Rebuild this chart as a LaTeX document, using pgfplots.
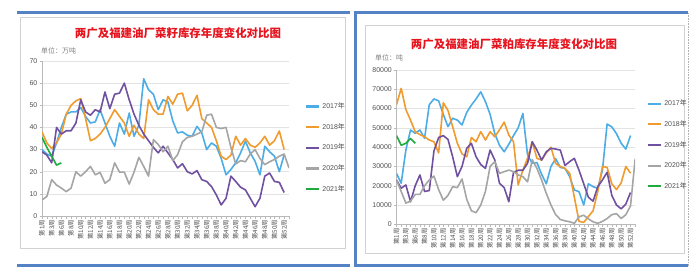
\documentclass[border=0pt]{standalone}
\usepackage{pgfplots}
\usepackage{pgfplotstable}
\pgfplotsset{compat=1.18}
\usepackage{fontspec}
\setmainfont{Liberation Sans}
\newfontfamily\cjk{Noto Sans CJK SC}

\definecolor{cA}{RGB}{75,172,230}
\definecolor{cB}{RGB}{240,155,45}
\definecolor{cC}{RGB}{112,80,160}
\definecolor{cD}{RGB}{165,165,165}
\definecolor{cE}{RGB}{30,170,60}
\definecolor{bordb}{RGB}{84,130,196}
\definecolor{ttl}{RGB}{230,20,30}
\definecolor{txt}{RGB}{80,80,80}

\pgfplotstableread{
i a b c d e
0 30 38 29 7.3 35.5
1 28 33 27.5 8.8 31
2 27 30.5 24 16.4 27
3 33 33 40 14 23
4 40 37 37 12.6 24
5 46 46 38.5 11 nan
6 47 50 38.5 12.6 nan
7 47 52 42 20 nan
8 49 53 52.5 18 nan
9 45 44 47 20 nan
10 42 34 45.5 22.4 nan
11 42.5 35 48 18.6 nan
12 48 37 47 19.7 nan
13 42 40 56 14.8 nan
14 36 44 48.5 16.4 nan
15 31.5 48 55 24 nan
16 42 45 55.5 19.8 nan
17 37 42 60 19.8 nan
18 46.5 36 52.5 14.4 nan
19 36 41 46 19.8 nan
20 41 37 41 26.5 nan
21 62 35 37 22.4 nan
22 57 52.5 34 18 nan
23 55 48 31 34.5 nan
24 48 46 28.5 32.3 nan
25 52.5 46 31.5 29 nan
26 51.5 54 28.5 31.5 nan
27 43 50.5 25.5 25 nan
28 37.5 55 21.7 27.7 nan
29 38 55.5 23.6 33.5 nan
30 36.5 47.5 20 35.5 nan
31 36 50 19 36 nan
32 40.5 54.5 20.5 37 nan
33 37.5 44 16.4 38 nan
34 30 42 15.6 45.5 nan
35 33 40 13.3 46 nan
36 31.5 34 9.5 40 nan
37 26 27 5 39.5 nan
38 18.6 25.5 8 40 nan
39 21 27.5 18 31 nan
40 24 36 15.6 23.5 nan
41 28.5 32 13 25 nan
42 33.8 35 11.8 24.5 nan
43 28.5 32 8 28 nan
44 24.7 31 4.2 30 nan
45 18.6 33 8 26 nan
46 31.5 36 18 23.2 nan
47 29 32 19.4 24.5 nan
48 27 34 15.6 25.5 nan
49 20 38.4 15.2 27 nan
50 27.7 30 10.6 28 nan
51 nan nan nan 21.7 nan
}\leftdata

\pgfplotstableread{
i a b c d e
0 26400 62000 23000 23000 46000
1 21300 70500 18700 17000 41000
2 38500 59500 20400 11000 42000
3 48900 54000 11700 12000 44500
4 47200 48000 20000 15500 42000
5 48900 46500 25600 15500 nan
6 44600 45400 17000 20000 nan
7 62000 43700 17500 23000 nan
8 65000 42800 38000 25000 nan
9 64000 37000 45000 18000 nan
10 57000 63000 46000 12500 nan
11 50600 59000 44000 15000 nan
12 55000 50600 35000 19500 nan
13 54000 42000 24700 19000 nan
14 51500 36500 30000 23500 nan
15 58000 35000 39400 13000 nan
16 61800 45000 42000 7000 nan
17 65000 42800 35000 6000 nan
18 68700 48000 31000 10000 nan
19 63600 43700 29000 17000 nan
20 57000 48000 38500 30000 nan
21 47000 45400 33300 32500 nan
22 41000 49000 21300 26400 nan
23 37600 53000 19000 27300 nan
24 41500 46300 11700 28100 nan
25 46000 42800 27000 27300 nan
26 50000 20400 28000 25600 nan
27 57500 28100 28000 24700 nan
28 35900 34200 31600 22000 nan
29 31600 42800 42800 33500 nan
30 32000 34200 38500 29000 nan
31 26000 33300 33300 23000 nan
32 21000 37000 37600 16000 nan
33 30000 40000 39400 10000 nan
34 34000 31500 39000 5000 nan
35 29500 30000 38500 2500 nan
36 29000 29000 30500 1800 nan
37 24700 26400 32500 1300 nan
38 17800 14000 34200 500 nan
39 16900 1500 28000 3900 nan
40 10000 1000 21000 4700 nan
41 21000 4000 14000 2800 nan
42 19500 7000 12000 1300 nan
43 18700 17000 19500 500 nan
44 28000 30000 23000 1500 nan
45 52000 29500 27000 3000 nan
46 50500 21000 15000 5000 nan
47 47000 18000 10000 5500 nan
48 42000 21500 8000 3000 nan
49 39000 30000 10500 5000 nan
50 46000 26500 16500 9500 nan
51 nan nan nan 34000 nan
}\rightdata

\pgfplotsset{
  legend image code/.code={\draw[#1, line width=2.2bp] (0bp,0bp) -- (13bp,0bp);},
  mychart/.style={
    scale only axis, anchor=south west,
    xmin=0, xmax=51, ymin=0,
    axis x line*=bottom, axis y line*=left,
    axis line style={draw=gray!55},
    ymajorgrids, grid style={draw=gray!22, line width=0.5bp},
    tick align=outside, major tick length=2.5bp,
    tick style={draw=gray!55},
    xtick={0,...,51},
    xticklabels={第1周,,第3周,,第6周,,第8周,,第10周,,第12周,,第14周,,第16周,,第18周,,第20周,,第22周,,第24周,,第26周,,第28周,,第30周,,第32周,,第34周,,第36周,,第38周,,第40周,,第42周,,第44周,,第46周,,第48周,,第50周,,第52周,},
    x tick label style={font=\cjk\fontsize{6.3}{7}\selectfont, rotate=90, anchor=east, inner sep=1.5bp, text=txt},
    y tick label style={font=\fontsize{7}{8}\selectfont, text=txt, inner sep=2bp},
    /pgf/number format/assume math mode=true,
    /pgf/number format/1000 sep={},
    scaled y ticks=false,
    unbounded coords=discard,
    every axis plot/.append style={line width=1.6bp, mark=none, line join=round},
    legend style={draw=none, fill=none, font=\fontsize{7}{8}\selectfont, text=txt,
      row sep=9.3bp, inner sep=0pt, cells={anchor=west}},
  }
}

\begin{document}
\begin{tikzpicture}
\path[use as bounding box] (0bp,0bp) rectangle (700bp,280bp);
% panel frames
\draw[gray!35, line width=0.6bp] (20bp,263bp) rectangle (345bp,32bp);
\draw[gray!35, line width=0.6bp] (365bp,255bp) rectangle (684bp,27bp);
\draw[bordb, line width=3bp] (17bp,267bp) -- (350bp,267bp);
\draw[bordb, line width=3bp] (17bp,14bp) -- (350bp,14bp);
\draw[bordb, line width=3bp] (355bp,267bp) -- (688bp,267bp);
\draw[bordb, line width=3bp] (355bp,14bp) -- (688bp,14bp);
\draw[bordb, line width=3bp] (355bp,268.5bp) -- (355bp,12.5bp);
\draw[gray!60, densely dotted, line width=0.6bp] (688bp,267bp) -- (688bp,14bp);

% titles
\node[font=\cjk\bfseries\fontsize{11.5}{13}\selectfont, text=ttl] at (178bp,247bp) {两广及福建油厂菜籽库存年度变化对比图};
\node[font=\cjk\bfseries\fontsize{11.5}{13}\selectfont, text=ttl] at (514bp,236bp) {两广及福建油厂菜粕库存年度变化对比图};
\node[font=\cjk\fontsize{7}{8}\selectfont, text=gray, anchor=west, inner sep=0] at (41bp,229bp) {单位：万吨};
\node[font=\cjk\fontsize{7}{8}\selectfont, text=gray, anchor=west, inner sep=0] at (375bp,222bp) {单位：吨};

\begin{axis}[mychart, at={(42bp,64bp)}, width=247bp, height=155bp,
  ymax=70, ytick={0,10,...,70},
  legend style={at={(1.065,0.745)}, anchor=north west}]
\addplot[cA] table[x=i, y=a] {\leftdata}; \addlegendentry{2017{\cjk 年}}
\addplot[cB] table[x=i, y=b] {\leftdata}; \addlegendentry{2018{\cjk 年}}
\addplot[cC] table[x=i, y=c] {\leftdata}; \addlegendentry{2019{\cjk 年}}
\addplot[cD] table[x=i, y=d] {\leftdata}; \addlegendentry{2020{\cjk 年}}
\addplot[cE] table[x=i, y=e] {\leftdata}; \addlegendentry{2021{\cjk 年}}
\end{axis}

\begin{axis}[mychart, at={(396.5bp,55.7bp)}, width=238.7bp, height=154.3bp,
  ymax=80000, ytick={0,10000,...,80000},
  legend style={at={(1.049,0.82)}, anchor=north west}]
\addplot[cA] table[x=i, y=a] {\rightdata}; \addlegendentry{2017{\cjk 年}}
\addplot[cB] table[x=i, y=b] {\rightdata}; \addlegendentry{2018{\cjk 年}}
\addplot[cC] table[x=i, y=c] {\rightdata}; \addlegendentry{2019{\cjk 年}}
\addplot[cD] table[x=i, y=d] {\rightdata}; \addlegendentry{2020{\cjk 年}}
\addplot[cE] table[x=i, y=e] {\rightdata}; \addlegendentry{2021{\cjk 年}}
\end{axis}
\end{tikzpicture}
\end{document}
